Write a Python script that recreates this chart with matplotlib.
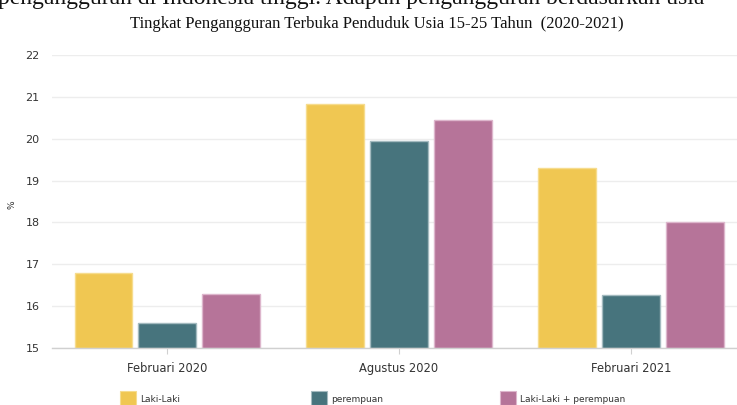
import matplotlib
matplotlib.use("Agg")
import matplotlib.pyplot as plt
import numpy as np

categories = ["Februari 2020", "Agustus 2020", "Februari 2021"]
series_names = ["Laki-Laki", "perempuan", "Laki-Laki + perempuan"]
laki = [16.78, 20.82, 19.29]
perempuan = [15.60, 19.94, 16.26]
gabungan = [16.30, 20.45, 18.02]
yticks = [15, 16, 17, 18, 19, 20, 21, 22]

colors = ["#F0C752", "#47747D", "#B67499"]
edges = ["#F6DC8E", "#A3BABF", "#DDB6CC"]

fig = plt.figure(figsize=(7.37, 4.05), dpi=100)
ax = fig.add_axes([52/737, 1-348/405, 1-52/737, (348-55)/405])

x = np.arange(len(categories))
slot = 0.274
width = 0.25
for i, vals in enumerate([laki, perempuan, gabungan]):
    ax.bar(x + (i-1)*slot, np.array(vals) - 15, bottom=15, width=width,
           color=colors[i], edgecolor=edges[i], linewidth=1.0, zorder=3,
           label=series_names[i])

ax.set_ylim(15, 22)
ax.set_xlim(-0.496, 2.457)
ax.set_yticks(yticks)
ax.set_yticklabels([str(t) for t in yticks])
ax.set_xticks(x)
ax.set_xticklabels(categories)
ax.grid(axis="y", color="#EDEDED", linewidth=1.0, zorder=0)
for s in ["top", "right", "left"]:
    ax.spines[s].set_visible(False)
ax.spines["bottom"].set_color("#D0D0D0")
ax.spines["bottom"].set_linewidth(1.0)
ax.spines["bottom"].set_zorder(4)
ax.tick_params(axis="y", length=0, pad=9, labelsize=8, labelcolor="#333333")
ax.tick_params(axis="x", length=4, width=0.8, color="#D0D0D0", pad=6,
               labelsize=8.3, labelcolor="#333333")

fig.text(12/737, 1-205/405, "%", rotation=90, ha="center", va="center",
         fontsize=6.5, color="#333333")

fig.text(377/737, 1-28/405, "Tingkat Pengangguran Terbuka Penduduk Usia 15-25 Tahun  (2020-2021)",
         ha="center", va="baseline", fontsize=12, family="Liberation Serif", color="#111111")

fig.text(-2/737, 1-4/405,
         "pengangguran di Indonesia tinggi. Adapun pengangguran berdasarkan usia",
         ha="left", va="baseline", fontsize=17, family="Liberation Serif", color="#111111")

# legend
leg_x = [120, 311, 500]
for i in range(3):
    fig.patches.append(matplotlib.patches.Rectangle(
        (leg_x[i]/737, 0), 16/737, 14/405, transform=fig.transFigure,
        facecolor=colors[i], edgecolor=edges[i], linewidth=0.8))
    fig.text((leg_x[i]+20)/737, 1-399/405, series_names[i], ha="left", va="center",
             fontsize=6.5, color="#333333")

fig.savefig("out.png", dpi=100)
